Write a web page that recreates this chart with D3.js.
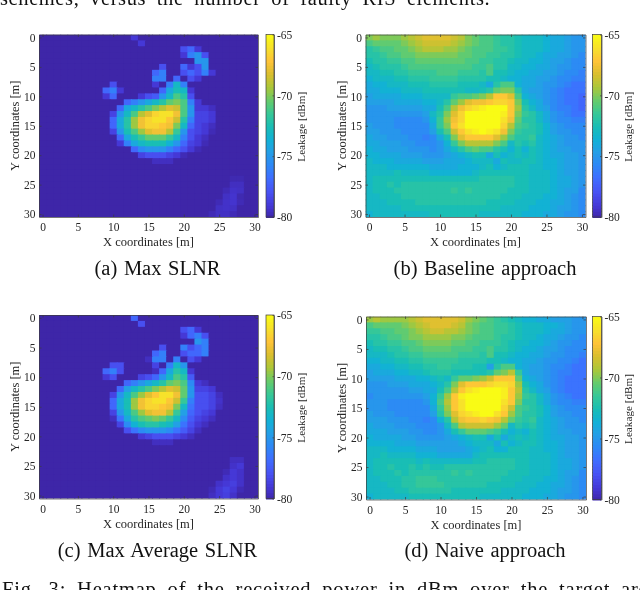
<!DOCTYPE html>
<html>
<head>
<meta charset="utf-8">
<script src="https://cdnjs.cloudflare.com/ajax/libs/d3/7.8.5/d3.min.js"></script>
<style>
html, body { margin: 0; padding: 0; background: #fff; overflow: hidden; }
svg { display: block; filter: blur(0.5px); }
text { font-family: "Liberation Serif", serif; fill: #262626; }
text.caption { fill: #111; }
.axis path, .axis line { stroke: #3c3c3c; stroke-width: 0.7; }
</style>
</head>
<body>
<div id="chart"></div>
<script>
// values are dB above the -80 dBm floor of the colour bar
var maxSlnr = [
[0,0,0,0,0,0,0,0,0,0,0,0,0,1,0,0,0,0,0,0,0,0,0,0,0,0,0,0,0,0,0],
[0,0,0,0,0,0,0,0,0,0,0,0,0,0,1,0,0,0,0,0,0,0,0,0,0,0,0,0,0,0,0],
[0,0,0,0,0,0,0,0,0,0,0,0,0,0,0,0,0,0,0,0,2,3,1,0,0,0,0,0,0,0,0],
[0,0,0,0,0,0,0,0,0,0,0,0,0,0,0,0,0,0,0,0,1,4,5,2,0,0,0,0,0,0,0],
[0,0,0,0,0,0,0,0,0,0,0,0,0,0,0,0,0,0,0,0,0,0,5,5,0,0,0,0,0,0,0],
[0,0,0,0,0,0,0,0,0,0,0,0,0,0,0,0,0,2,0,0,3,1,2,5,0,0,0,0,0,0,0],
[0,0,0,0,0,0,0,0,0,0,0,0,0,0,0,0,3,4,0,0,2,3,2,4,1,0,0,0,0,0,0],
[0,0,0,0,0,0,0,0,0,0,0,0,0,0,0,0,4,4,0,3,0,2,1,0,0,0,0,0,0,0,0],
[0,0,0,0,0,0,0,0,0,0,2,0,0,0,0,0,1,0,4,7,4,0,0,0,0,0,0,0,0,0,0],
[0,0,0,0,0,0,0,0,0,3,4,1,0,0,0,0,0,3,6,7.5,7,1,0,0,0,0,0,0,0,0,0],
[0,0,0,0,0,0,0,0,0,1,3,0,0,0,1,2,2.5,5,7,9,8,2,0,0,0,0,0,0,0,0,0],
[0,0,0,0,0,0,0,0,0,0,0,0,3,4,5,6,7,8,9.5,10,9,4,1,0,0,0,0,0,0,0,0],
[0,0,0,0,0,0,0,0,0,0,0,3,6,7,8,9,10,11,12,11.5,9,5,1,1,0.5,0,0,0,0,0,0],
[0,0,0,0,0,0,0,0,0,0,1.5,5,7,9,11,12,13.5,14,14,12.5,9,5,1.5,1.5,1,0,0,0,0,0,0],
[0,0,0,0,0,0,0,0,0,0,3,6,8,10.5,12.5,13.5,14,14,13,11.5,8,4,1.5,1.5,1,0,0,0,0,0,0],
[0,0,0,0,0,0,0,0,0,0,3,6,8,10.5,12.5,13.5,13.5,13,12.5,10,7,3,1.5,1,0.5,0,0,0,0,0,0],
[0,0,0,0,0,0,0,0,0,0,1.5,5,7.5,9,10.5,12,12.5,12.5,11,8.5,5,2,1.5,1,0.3,0,0,0,0,0,0],
[0,0,0,0,0,0,0,0,0,0,0,3,6,7.5,8.5,9.5,9.5,9.5,8.5,7,4,2,1,0.5,0,0,0,0,0,0,0],
[0,0,0,0,0,0,0,0,0,0,0,1,4,6,7,7.5,7.5,7.5,6.5,5,3,1.5,1,0.3,0,0,0,0,0,0,0],
[0,0,0,0,0,0,0,0,0,0,0,0,0,3,4.5,5,5,5,4,3,2,1,0.3,0,0,0,0,0,0,0,0],
[0,0,0,0,0,0,0,0,0,0,0,0,0,0,1.5,2,2,2,1.5,1,0.3,0,0,0,0,0,0,0,0,0,0],
[0,0,0,0,0,0,0,0,0,0,0,0,0,0,0,0,0.5,0.5,0.5,0,0,0,0,0,0,0,0,0,0,0,0],
[0,0,0,0,0,0,0,0,0,0,0,0,0,0,0,0,0,0,0,0,0,0,0,0,0,0,0,0,0,0,0],
[0,0,0,0,0,0,0,0,0,0,0,0,0,0,0,0,0,0,0,0,0,0,0,0,0,0,0,0,0,0,0],
[0,0,0,0,0,0,0,0,0,0,0,0,0,0,0,0,0,0,0,0,0,0,0,0,0,0,0,0.2,0.2,0,0],
[0,0,0,0,0,0,0,0,0,0,0,0,0,0,0,0,0,0,0,0,0,0,0,0,0,0,0,0.5,0.5,0,0],
[0,0,0,0,0,0,0,0,0,0,0,0,0,0,0,0,0,0,0,0,0,0,0,0,0,0,0.3,0.7,0.6,0,0],
[0,0,0,0,0,0,0,0,0,0,0,0,0,0,0,0,0,0,0,0,0,0,0,0,0,0,0.6,0.8,0.2,0,0],
[0,0,0,0,0,0,0,0,0,0,0,0,0,0,0,0,0,0,0,0,0,0,0,0,0,0.3,0.7,0.8,0.3,0,0],
[0,0,0,0,0,0,0,0,0,0,0,0,0,0,0,0,0,0,0,0,0,0,0,0,0,0.6,0.7,0.6,0,0,0],
[0,0,0,0,0,0,0,0,0,0,0,0,0,0,0,0,0,0,0,0,0,0,0,0,0.3,0.6,0.6,0.3,0,0,0]
];

var baseline = [
[10,10.5,10,10,10,10.5,11,11.5,12,12,12,12,11.5,11,10,9.5,9,9,8.5,8,8,7.5,7,7,7,6.5,6,6,5.5,5,5],
[9,9.5,9.5,9.5,9.5,10,10.5,11,11.5,11.5,11.5,11.5,11,10.5,10,9.5,9,9,8.5,8,8,7.5,7,7,7,6.5,6,6,5.5,5,5],
[8,8.5,9,9,9.5,9.5,10,10.5,11,11,11,10.5,10.5,10,9.5,9,9,9,8.5,8.5,8,7.5,7,7,7,6.5,6,6,5.5,5,5],
[8,8,8.5,9,9,9.5,9.5,10,10,10,10,10,10,9.5,9.5,9,9,8.5,8.5,8,8,7.5,7,7,6.5,6,6,5.5,5.5,5,4.5],
[7.5,8,8,8.5,8.5,9,9,9.5,9.5,9.5,9.5,9.5,9.5,9.5,9,9,8.5,8.5,8,8,7.5,7,7,6.5,6.5,6,5.5,5.5,5,4.5,4.5],
[7,7.5,8,8,8,8.5,9,9,9,9,9,9,9,9,9,8.5,8.5,9,8,8,7,7,6.5,6.5,6,6,5.5,5,5,4.5,4.5],
[7,7,7.5,7.5,8,8,8.5,8.5,8.5,8.5,9,9,9,8.5,8.5,8.5,8,9,7.5,7.5,7,6.5,6.5,6,6,5.5,5.5,5,4.5,4.5,4],
[6.5,7,7,7,7.5,7.5,8,8,8,8.5,8.5,8.5,8.5,8,8,8,8,7.5,7.5,7,6.5,6.5,6,6,5.5,5.5,5,4.5,4.5,4,4],
[6,6.5,6.5,7,7,7,7.5,7.5,7.5,8,8,8,8,7.5,7.5,7.5,7,6,8,9,9,6.5,6,6,5.5,5,5,4.5,4,3.5,3.5],
[6,6,6.5,6.5,6.5,7,7,7,7.5,7.5,7.5,7.5,7.5,7.5,7,7,7.5,8,9.5,10,10,8,6,5.5,5.5,5,4.5,4,3.5,3.5,3.5],
[5.5,6,6,6,6,6.5,6.5,6.5,7,7,7,7,8.5,9,9,9.5,10,11,13,13,12,9,6.5,6,5.5,5,4.5,4,3.5,3.5,3],
[5.5,5.5,5.5,5.5,6,6,6,6,6.5,6.5,7,8,9.5,10.5,12,12.5,12.5,13,13.5,13.5,13,10,7.5,6.5,6,5,4.5,4,3.5,3.5,3],
[5,5,5,5.5,5.5,5.5,5.5,5.5,6,6,7.5,9,11,12.5,13.5,14,14.5,15,15,15,13,10.5,8,7,6,5.5,4.5,4,4,3.5,3],
[5,5,5,5,5,5,5,5,5.5,7,8,10,12,13.5,15,15,15,15,15,14.5,13,10,8.5,8,7,6,5,4.5,4,3.5,3.5],
[5,5,5,5,4.5,4.5,4.5,4.5,5,6.5,8.5,10.5,12.5,13.5,15,15,15,15,15,14,12.5,9.5,8,8,7,6,5,4.5,4.5,4,4],
[5.5,5,5,5,4.5,4.5,4.5,4.5,4.5,6,8.5,10,13,14,15,15,15,15,15,13.5,11,9,8.5,8,7.5,6.5,5.5,5,4.5,4.5,4.5],
[5.5,5.5,5,5,5,4.5,4.5,4.5,4.5,5.5,7.5,9,11.5,13,14,14.5,15,14.5,14,12.5,10,8.5,8,8,7.5,6.5,5.5,5,5,4.5,4.5],
[6,5.5,5.5,5,5,5,4.5,4.5,4,4.5,6,7.5,10,12,13,13,13,13,12,10.5,9,8,8,8.5,7,6.5,6,5.5,5,5,4.5],
[6,6,5.5,5.5,5.5,5,5,4.5,4.5,4.5,5,6.5,8.5,10,11,11,11,11,10,9,7,8,7.5,8,7,6.5,6,5.5,5,5,5],
[6.5,6,6,5.5,5.5,5.5,5,5,5,4.5,5,6,7,8,9,9.5,9,9,8,7.5,6.5,7.5,6.5,7.5,7,6.5,6,5.5,5.5,5,5],
[6.5,6.5,6,6,6,5.5,5.5,5.5,5,5,5,5.5,6,6.5,7,7.5,7.5,6,7.5,6.5,7,7.5,7,7.5,7,6.5,6,6,5.5,5.5,5],
[7,6.5,6.5,6.5,6,6,6,6,5.5,5.5,5.5,6,6,6,6.5,7,7,7,6,7.5,7,7,7.5,7.5,7,6.5,6.5,6,5.5,5.5,5],
[7,7,7,6.5,6.5,6.5,6.5,6.5,6.5,6,6,6,6,6.5,6.5,6.5,7,7.5,6.5,7,7.5,7.5,7.5,7,7,6.5,6.5,6,5.5,5.5,5],
[7,7,7,7,7.5,7,7,7,7,6.5,6.5,6.5,6.5,6.5,6.5,7,7.5,7.5,7.5,7.5,7.5,7.5,7.5,7,7,7,6.5,6,5.5,5.5,5],
[7,7.5,7.5,7.5,7.5,7.5,7.5,7.5,7.5,7.5,7.5,7.5,7.5,7.5,7.5,7.5,8,8,8,8,8,7.5,7.5,7,7,7,6.5,6,6,5.5,5],
[7,7.5,7.5,8,7.5,8,8,8,8,8,8,8,8,8,8,8,8,8,8,8,8,7.5,7.5,7,7,7,6.5,6,6,5.5,5],
[7,7.5,7.5,7.5,8,8,8,8,8,8,8,8,8.5,8,8.5,8,8,8,8,8,7.5,7.5,7.5,7,7,7,6.5,6,5.5,5.5,4.5],
[7,7,7.5,7.5,7.5,8,8,8,8,8,8,8,8,8,8,8,8,8,8,7.5,7.5,7.5,7,7,7,6.5,6.5,6,5.5,5,4.5],
[7,7,7,7.5,7.5,7.5,7.5,8,8,8,8,8,8,8,8,8,8,7.5,7.5,7.5,7.5,7,7,7,6.5,6.5,6,6,5.5,5,4.5],
[7,7,7,7,7,7.5,7.5,7.5,7.5,7.5,7.5,7.5,7.5,7.5,7.5,7.5,7.5,7.5,7.5,7,7,7,7,6.5,6.5,6.5,6,5.5,5.5,5,4.5],
[6.5,7,7,7,7,7,7,7,7,7.5,7.5,7.5,7.5,7.5,7.5,7.5,7,7,7,7,7,7,6.5,6.5,6.5,6,6,5.5,5,5,4.5]
];

var maxAverage = [
[0,0,0,0,0,0,0,0,0,0,0,0,0,3,0,0,0,0,0,0,0,0,0,0,0,0,0,0,0,0,0],
[0,0,0,0,0,0,0,0,0,0,0,0,0,0,2,0,0,0,0,0,0,0,0,0,0,0,0,0,0,0,0],
[0,0,0,0,0,0,0,0,0,0,0,0,0,0,0,0,0,0,0,0,2,3,1,0,0,0,0,0,0,0,0],
[0,0,0,0,0,0,0,0,0,0,0,0,0,0,0,0,0,0,0,0,1,3,4,2,0,0,0,0,0,0,0],
[0,0,0,0,0,0,0,0,0,0,0,0,0,0,0,0,0,0,0,0,0,0,5,4,0,0,0,0,0,0,0],
[0,0,0,0,0,0,0,0,0,0,0,0,0,0,0,0,0,2,0,0,4,2,3,4,0,0,0,0,0,0,0],
[0,0,0,0,0,0,0,0,0,0,0,0,0,0,0,0,3,4,0,0,2,3,3,4,0,0,0,0,0,0,0],
[0,0,0,0,0,0,0,0,0,0,0,0,0,0,0,0.5,4,4,0,4,0,2,1,0,0,0,0,0,0,0,0],
[0,0,0,0,0,0,0,0,0,0,2,2,0,0,0,0,1.5,0,4,7,5,0,0,0,0,0,0,0,0,0,0],
[0,0,0,0,0,0,0,0,0,3,4,2,0,0,0,0,0.5,3,6,8,7,1,0,0,0,0,0,0,0,0,0],
[0,0,0,0,0,0,0,0,0,1,2,0,0,0,1.5,2,3,5,7,9,8,2.5,0,0,0,0,0,0,0,0,0],
[0,0,0,0,0,0,0,0,0,0,0,0,3,4,5,6,7,8,9.5,10,9,4.5,1,0.5,0,0,0,0,0,0,0],
[0,0,0,0,0,0,0,0,0,0,0,3,5.5,7,8,9,10,11,12,11.5,9.5,5,1.5,1.5,1,0,0,0,0,0,0],
[0,0,0,0,0,0,0,0,0,0,1.5,5,7,9,10.5,12,13,14,14,12.5,9.5,5,2,2,1.5,0.5,0,0,0,0,0],
[0,0,0,0,0,0,0,0,0,0,3,6,7.5,10.5,12.5,13.5,14,14,13,11.5,8.5,4,2,2,1.5,0.7,0,0,0,0,0],
[0,0,0,0,0,0,0,0,0,0,3,6,7.5,10.5,12.5,13.5,13.5,13,12.5,10,7,3.5,2,2,1.5,0.5,0,0,0,0,0],
[0,0,0,0,0,0,0,0,0,0,1.5,5,7,9,10.5,12,12.5,12.5,11,8.5,5.5,3,2,1.5,1,0,0,0,0,0,0],
[0,0,0,0,0,0,0,0,0,0,0.5,3.5,6,8,9,9.5,10,9.5,8.5,7,4.5,2.5,1.5,1,0.5,0,0,0,0,0,0],
[0,0,0,0,0,0,0,0,0,0,0,1.5,4.5,6.5,7.5,8,8,7.5,7,5.5,3.5,2,1,0.5,0,0,0,0,0,0,0],
[0,0,0,0,0,0,0,0,0,0,0,0,2,3.5,4.5,5,5,5,4.5,3.5,2.5,1.5,0.5,0,0,0,0,0,0,0,0],
[0,0,0,0,0,0,0,0,0,0,0,0,0,0,1,1.5,2,2,2,1.5,1,0.5,0,0,0,0,0,0,0,0,0],
[0,0,0,0,0,0,0,0,0,0,0,0,0,0,0,0,0.5,0.5,0.5,0,0,0,0,0,0,0,0,0,0,0,0],
[0,0,0,0,0,0,0,0,0,0,0,0,0,0,0,0,0,0,0,0,0,0,0,0,0,0,0,0,0,0,0],
[0,0,0,0,0,0,0,0,0,0,0,0,0,0,0,0,0,0,0,0,0,0,0,0,0,0,0,0,0,0,0],
[0,0,0,0,0,0,0,0,0,0,0,0,0,0,0,0,0,0,0,0,0,0,0,0,0,0,0,0.5,0.5,0,0],
[0,0,0,0,0,0,0,0,0,0,0,0,0,0,0,0,0,0,0,0,0,0,0,0,0,0,0,0.7,1,0,0],
[0,0,0,0,0,0,0,0,0,0,0,0,0,0,0,0,0,0,0,0,0,0,0,0,0,0,0.3,1,0.7,0,0],
[0,0,0,0,0,0,0,0,0,0,0,0,0,0,0,0,0,0,0,0,0,0,0,0,0,0,0.7,1,0.7,0,0],
[0,0,0,0,0,0,0,0,0,0,0,0,0,0,0,0,0,0,0,0,0,0,0,0,0,0.7,1,1.3,0.7,0,0],
[0,0,0,0,0,0,0,0,0,0,0,0,0,0,0,0,0,0,0,0,0,0,0,0,0.3,1,1.5,1,0.3,0,0],
[0,0,0,0,0,0,0,0,0,0,0,0,0,0,0,0,0,0,0,0,0,0,0,0,0.5,1,1.3,0.7,0,0,0]
];

var naive = [
[10.5,11,10.5,10.5,10.5,10.5,11,11.5,12,12,12,12,12,11.5,10.5,10,9.5,9,8.5,8,7.5,7,6.5,6.5,6,6,5.5,5.5,5.5,5,5],
[9,9.5,9.5,9.5,9.5,10,10.5,11,11.5,12,12,12,11.5,11,10,9.5,9,9,8.5,8.5,8,7.5,7,7,7,6.5,6.5,6,5.5,5,5],
[8.5,8.5,9,9,9.5,9.5,10,10.5,11,11.5,11.5,11,11,10.5,10,9.5,9,9,8.5,8.5,8,7.5,7,7,7,6.5,6,6,5.5,5,5],
[8,8,8.5,9,9,9.5,10,10,10.5,10.5,10.5,10.5,10,10,9.5,9,9,9,8.5,8,8,7.5,7,7,6.5,6,6,5.5,5,5,4.5],
[7.5,8,8,8.5,8.5,9,9,9.5,10,10,10,10,9.5,9.5,9,9,8.5,8.5,8.5,8,7.5,7,7,6.5,6.5,6,5.5,5,5,4.5,4.5],
[7,7.5,7.5,8,8,8.5,9,9,9.5,9.5,9.5,9.5,9,9,9,8.5,8.5,9,8,8,7.5,7,6.5,6.5,6,5.5,5.5,5,4.5,4.5,4.5],
[7,7,7,7.5,8,8,8.5,8.5,9,9,9,9,9,8.5,8.5,8.5,8,9,7.5,7.5,7,6.5,6.5,6,6,5.5,5,5,4.5,4.5,4],
[6.5,6.5,7,7,7.5,7.5,8,8,8.5,8.5,8.5,8.5,8.5,8,8,8,8,7.5,7.5,7,6.5,6.5,6,6,5.5,5,5,4.5,4.5,4,3.5],
[6,6,6.5,6.5,7,7,7.5,7.5,8,8,8.5,8.5,8,8,8,7.5,7.5,5.5,8,9,9,6.5,6,5.5,5.5,5,4.5,4.5,4,3.5,3.5],
[5.5,6,6,6,6.5,6.5,7,7,7.5,8,8,8,7.5,7.5,7.5,7.5,7.5,8,9.5,10,11,8.5,6,5.5,5.5,5,4.5,4,4,3.5,3.5],
[5.5,5.5,5.5,5.5,6,6,6,6.5,6.5,7,7.5,7,8.5,9.5,9.5,10,10.5,11.5,13,13,13,9.5,6.5,6,5.5,5,4.5,4,3.5,3.5,3.5],
[5,5,5,5.5,5.5,5.5,6,6,6,6.5,7,8,10,12,13,13,13,13.5,14,14,13.5,10.5,7.5,6.5,6,5,4.5,4,3.5,3.5,3.5],
[5,5,5,5,5,5,5.5,5.5,6,6,7.5,9,11,13,14,14.5,15,15,15,14.5,13,11,8,7,6,5.5,4.5,4,3.5,3.5,3.5],
[4.5,5,5,5,5,5,5,5,5.5,6.5,8.5,10.5,13,14.5,15,15,15,15,15,14.5,13,10.5,8.5,8,7,6,5,4.5,4,3.5,3.5],
[5,5,5,4.5,4.5,4.5,4.5,4.5,5,6.5,9,11,13,14,15,15,15,15,15,14,13,10,8,8,7,6,5,4.5,4.5,4,4],
[5,5,5,4.5,4.5,4.5,4.5,4.5,4.5,6,8.5,10.5,13,14,15,15,15,15,15,13.5,11.5,9,8.5,8,7.5,6.5,5.5,5,4.5,4.5,4.5],
[5.5,5,5,5,4.5,4.5,4.5,4.5,4.5,5.5,8,10,12,13.5,14,14.5,15,15,14,13,10.5,9,8,8,7.5,6.5,5.5,5,5,4.5,4.5],
[5.5,5.5,5.5,5,5,5,4.5,4.5,4,4.5,6.5,8,11,12.5,13,13,13.5,13,12.5,11,9.5,8.5,8,8.5,7,6.5,6,5.5,5,5,4.5],
[6,5.5,5.5,5.5,5,5,5,4.5,4.5,4.5,5,7,9,11,11.5,11.5,11.5,11.5,10.5,9.5,7,8,7.5,8,7,6.5,6,5.5,5,5,5],
[6,6,6,5.5,5.5,5.5,5,5,4.5,4.5,5,6,7.5,8.5,9.5,9.5,9.5,9,8.5,7.5,6.5,7,6.5,7.5,7,6.5,6,5.5,5.5,5,5],
[6.5,6,6,6,6,5.5,5.5,5,5,5,5,5.5,6,6.5,7,7.5,7.5,6,7.5,6,7,7.5,7,7.5,7,6.5,6,6,5.5,5.5,5],
[6.5,6.5,6.5,6.5,6,6,6,5.5,5.5,5.5,5.5,5.5,5.5,6,6.5,7,7,7,6,7.5,6.5,7,7.5,7.5,7,6.5,6.5,6,5.5,5.5,5],
[7,7,7,6.5,6.5,6.5,6.5,6,6,6,5.5,5.5,5.5,5.5,6,6.5,7,7.5,6.5,6.5,7.5,7.5,7.5,7,7,6.5,6.5,6,5.5,5.5,5],
[7,7,7.5,7,7,7,7,6.5,6.5,6.5,6,6,6,6,6,7,7.5,7.5,7.5,7.5,7.5,7.5,7.5,7,7,7,6.5,6,5.5,5.5,5],
[7,7.5,7.5,7.5,7.5,7.5,7.5,7,7.5,7,7,7,7,7,7,7.5,7.5,8,8,8,8,7.5,7.5,7,7,7,6.5,6,6,5.5,5],
[7,7.5,7.5,8,7.5,7.5,8,7.5,8,7.5,7.5,8,8,8,8,8,8,8,8,8,8,7.5,7.5,7,7,7,6.5,6,6,5.5,5],
[7,7.5,7.5,7.5,8,7.5,8,8,8,8,8,8,8.5,8,8.5,8,8,8,8,8,7.5,7.5,7.5,7,7,7,6.5,6,5.5,5.5,4.5],
[7,7,7.5,7.5,7.5,8,8,8.5,8.5,8.5,8,8,8,8,8,8,8,8,8,7.5,7.5,7.5,7,7,7,6.5,6.5,6,5.5,5,4.5],
[7,7,7,7.5,7.5,8,8,8.5,8.5,8.5,8.5,8,8,8,8,8,8,7.5,7.5,7.5,7.5,7,7,7,6.5,6.5,6,6,5.5,5,4.5],
[7,7,7,7,7.5,7.5,8,8,8,8,8,8,7.5,7.5,7.5,7.5,7.5,7.5,7.5,7,7,7,7,6.5,6.5,6.5,6,5.5,5.5,5,4.5],
[6.5,7,7,7,7,7,7.5,7.5,7.5,7.5,7.5,7.5,7.5,7.5,7.5,7.5,7,7,7,7,7,7,6.5,6.5,6.5,6,6,5.5,5,5,4.5]
];

var axisTicks = [0, 5, 10, 15, 20, 25, 30];
var barTicks = [-65, -70, -75, -80];
var panelTitles = ["(a) Max SLNR", "(b) Baseline approach", "(c) Max Average SLNR", "(d) Naive approach"];
var panelGrids = [maxSlnr, baseline, maxAverage, naive];

// parula
var parulaAt = [0, .0635, .143, .222, .286, .365, .429, .5, .571, .643, .714, .786, .857, .92, 1];
var parulaCol = ["#3e26a8", "#4537d5", "#4852f4", "#3e6fff", "#2e87f7", "#23a0e5", "#12b1d6", "#19beb5",
    "#37c897", "#66cb6b", "#abc739", "#d9bf2e", "#fec338", "#f7dd2e", "#f9fb15"];

var floorDb = -80, topDb = -65;

var colour = d3.scaleLinear()
    .domain(parulaAt.map(function(t) { return floorDb + t * (topDb - floorDb); }))
    .range(parulaCol)
    .clamp(true);

var width = 640, height = 590;

var svg = d3.select("#chart").append("svg")
    .attr("width", width)
    .attr("height", height);

// top line of the page text, cut by the crop
svg.append("text")
    .attr("class", "caption")
    .attr("x", 0).attr("y", 5)
    .attr("font-size", 20.5)
    .attr("word-spacing", 5)
    .attr("letter-spacing", 0.6)
    .text("schemes, versus the number of faulty RIS elements.");

svg.append("text")
    .attr("class", "caption")
    .attr("x", 2).attr("y", 596)
    .attr("font-size", 20.5)
    .attr("word-spacing", 5)
    .attr("letter-spacing", 0.8)
    .text("Fig. 3: Heatmap of the received power in dBm over the target area");

// placement of each panel: plot box, colour bar
var layout = [
    {l: 39, r: 258, t: 34.5, b: 217, barL: 266, barR: 274, capX: 157.5, capY: 275, yLabX: 19, barLabX: 305},
    {l: 365.5, r: 585.5, t: 34.5, b: 217, barL: 592.5, barR: 601.5, capX: 485, capY: 275, yLabX: 346, barLabX: 632},
    {l: 39, r: 258, t: 315, b: 498.5, barL: 266, barR: 274, capX: 157.5, capY: 557, yLabX: 19, barLabX: 305},
    {l: 366, r: 586, t: 316.5, b: 499.5, barL: 592.5, barR: 601.5, capX: 485, capY: 557, yLabX: 346, barLabX: 632}
];

layout.forEach(function(p, i) { drawPanel(p, panelGrids[i], panelTitles[i]); });

function drawPanel(p, grid, title) {
    var x = d3.scaleLinear().domain([-0.5, 30.5]).range([p.l, p.r]);
    var y = d3.scaleLinear().domain([-0.5, 30.5]).range([p.t, p.b]);

    var rows = svg.append("g").selectAll("g")
        .data(grid)
      .enter().append("g");

    // a pixel of overlap so the cells leave no seams, the clip keeps the box edge clean
    var clipId = "clip" + Math.round(p.l) + Math.round(p.t);
    svg.append("clipPath").attr("id", clipId).append("rect")
        .attr("x", p.l).attr("y", p.t).attr("width", p.r - p.l).attr("height", p.b - p.t);
    rows.attr("clip-path", "url(#" + clipId + ")");

    rows.selectAll("rect")
        .data(function(row, r) { return row.map(function(v, c) { return {r: r, c: c, v: v}; }); })
      .enter().append("rect")
        .attr("x", function(d) { return x(d.c - 0.5); })
        .attr("y", function(d) { return y(d.r - 0.5); })
        .attr("width", x(1) - x(0) + 1)
        .attr("height", y(1) - y(0) + 1)
        .attr("fill", function(d) { return colour(floorDb + d.v); });

    var bottom = d3.axisBottom(x).tickValues(axisTicks).tickSize(-2.5).tickPadding(6).tickSizeOuter(0);
    var left = d3.axisLeft(y).tickValues(axisTicks).tickSize(-2.5).tickPadding(3.5).tickSizeOuter(0);
    var top = d3.axisTop(x).tickValues(axisTicks).tickSize(-2.5).tickFormat("").tickSizeOuter(0);
    var right = d3.axisRight(y).tickValues(axisTicks).tickSize(-2.5).tickFormat("").tickSizeOuter(0);

    addAxis(bottom, 0, p.b);
    addAxis(left, p.l, 0);
    addAxis(top, 0, p.t);
    addAxis(right, p.r, 0);

    svg.append("text")
        .attr("x", (p.l + p.r) / 2).attr("y", p.b + 29)
        .attr("text-anchor", "middle")
        .attr("font-size", 12.5)
        .text("X coordinates [m]");

    svg.append("text")
        .attr("transform", "translate(" + p.yLabX + "," + ((p.t + p.b) / 2) + ") rotate(-90)")
        .attr("text-anchor", "middle")
        .attr("font-size", 12.5)
        .text("Y coordinates [m]");

    // colour bar
    var barY = d3.scaleLinear().domain([floorDb, topDb]).range([p.b, p.t]);
    var steps = d3.range(floorDb, topDb, 0.25);

    svg.append("g").selectAll("rect")
        .data(steps)
      .enter().append("rect")
        .attr("x", p.barL)
        .attr("y", function(d) { return barY(d + 0.25); })
        .attr("width", p.barR - p.barL)
        .attr("height", barY(floorDb) - barY(floorDb + 0.25) + 1)
        .attr("fill", function(d) { return colour(d + 0.125); });

    svg.append("rect")
        .attr("x", p.barL).attr("y", p.t)
        .attr("width", p.barR - p.barL).attr("height", p.b - p.t)
        .attr("fill", "none").attr("stroke", "#3c3c3c").attr("stroke-width", 0.7);

    var barAxis = d3.axisRight(barY).tickValues(barTicks).tickSize(-1.5).tickPadding(3)
        .tickSizeOuter(0).tickFormat(function(d) { return d; });
    addAxis(barAxis, p.barR, 0);

    svg.append("text")
        .attr("transform", "translate(" + p.barLabX + "," + ((p.t + p.b) / 2 + 1) + ") rotate(-90)")
        .attr("text-anchor", "middle")
        .attr("font-size", 11.2)
        .text("Leakage [dBm]");

    svg.append("text")
        .attr("class", "caption")
        .attr("x", p.capX).attr("y", p.capY)
        .attr("text-anchor", "middle")
        .attr("font-size", 20.5)
        .attr("word-spacing", 1.5)
        .text(title);
}

function addAxis(axis, tx, ty) {
    var g = svg.append("g")
        .attr("class", "axis")
        .attr("transform", "translate(" + tx + "," + ty + ")")
        .call(axis);
    g.selectAll("text").attr("font-size", 11.5).attr("font-family", "Liberation Serif");
}
</script>
</body>
</html>
